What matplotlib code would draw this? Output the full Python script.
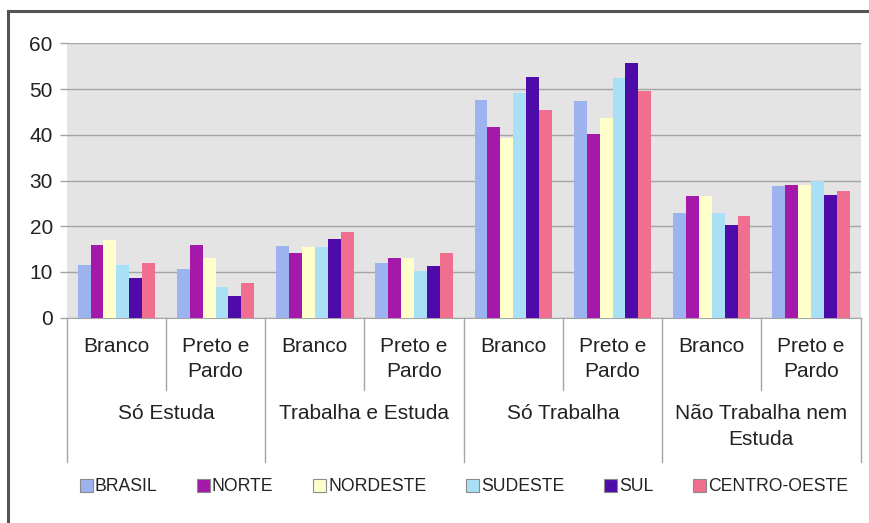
import numpy as np
import matplotlib.pyplot as plt
from matplotlib.patches import Patch
from matplotlib.lines import Line2D
import matplotlib.transforms as mtransforms

plt.rcParams['font.family'] = ['Liberation Sans', 'DejaVu Sans']

# ---------------- data ----------------
groups = ['Só Estuda', 'Trabalha e Estuda', 'Só Trabalha', 'Não Trabalha nem\nEstuda']
subgroups = ['Branco', 'Preto e\nPardo']
regions = ['BRASIL', 'NORTE', 'NORDESTE', 'SUDESTE', 'SUL', 'CENTRO-OESTE']

brasil   = [11.5, 10.6, 15.7, 11.9, 47.6, 47.3, 22.8, 28.7]
norte    = [15.9, 15.9, 14.1, 13.0, 41.8, 40.2, 26.6, 29.0]
nordeste = [17.0, 13.0, 15.5, 13.0, 39.3, 43.6, 26.6, 29.0]
sudeste  = [11.5,  6.8, 15.5, 10.3, 49.1, 52.4, 22.8, 29.8]
sul      = [ 8.6,  4.7, 17.2, 11.3, 52.6, 55.7, 20.3, 26.8]
centro   = [11.9,  7.7, 18.8, 14.1, 45.4, 49.5, 22.3, 27.6]
series = [brasil, norte, nordeste, sudeste, sul, centro]

colors = ['#9db3f0', '#a519aa', '#ffffcc', '#a9e0f5', '#4f0aaa', '#f06e8e']
text_col = '#222222'
line_col = '#a4a4a4'

# ---------------- figure ----------------
fig = plt.figure(figsize=(8.7, 5.23), dpi=100)
ax = fig.add_axes([0.0767, 0.3925, 0.9125, 0.5247])
ax.set_facecolor('#e4e4e4')

n_cat = len(groups) * len(subgroups)
x = np.arange(n_cat)
w = 0.13
for i, (vals, c) in enumerate(zip(series, colors)):
    ax.bar(x + (i - 2.5) * w, vals, width=w, color=c, linewidth=0, zorder=3)

ax.set_xlim(-0.5, n_cat - 0.5)
ax.set_ylim(0, 60)
ax.set_yticks(np.arange(0, 61, 10))
ax.yaxis.grid(True, color=line_col, linewidth=1.0, zorder=1)
ax.set_axisbelow(True)
ax.tick_params(axis='y', labelsize=15, colors=line_col, labelcolor=text_col,
               length=5, width=1, pad=5)
ax.set_xticks([])
for s in ['top', 'right', 'left']:
    ax.spines[s].set_visible(False)
ax.spines['bottom'].set_color(line_col)

# ---------------- multi-level category axis ----------------
trans = mtransforms.blended_transform_factory(ax.transData, ax.transAxes)
ax_h_px = 274.4
def yfrac(px_below):
    return -px_below / ax_h_px

short_len = yfrac(72)
long_len = yfrac(144)
for k in range(n_cat + 1):
    bottom = long_len if k % 2 == 0 else short_len
    ax.add_line(Line2D([k - 0.5, k - 0.5], [0, bottom], transform=trans,
                       color=line_col, linewidth=1.0, clip_on=False))

line_step = 25.5
for k in range(n_cat):
    for j, part in enumerate(subgroups[k % 2].split('\n')):
        ax.text(k, yfrac(28.5 + j * line_step), part, transform=trans,
                ha='center', va='center', fontsize=15, color=text_col)
for g, name in enumerate(groups):
    for j, part in enumerate(name.split('\n')):
        ax.text(2 * g + 0.5, yfrac(96 + j * line_step), part, transform=trans,
                ha='center', va='center', fontsize=15, color=text_col)

# ---------------- legend ----------------
handles = [Patch(facecolor=c, edgecolor='#8a8a8a', linewidth=0.8) for c in colors]
fig.legend(handles, regions, loc='center', bbox_to_anchor=(0.533, 0.069),
           ncol=6, frameon=False, fontsize=12.7, handlelength=0.75,
           handleheight=0.75, handletextpad=0.1, columnspacing=2.25,
           labelcolor=text_col)

# ---------------- outer frame (left and top edges) ----------------
fig.add_artist(Line2D([8.5 / 870, 8.5 / 870], [0, 1 - 10.5 / 523],
                      transform=fig.transFigure, color='#555555', linewidth=2.2))
fig.add_artist(Line2D([8.5 / 870, 1], [1 - 10.5 / 523, 1 - 10.5 / 523],
                      transform=fig.transFigure, color='#555555', linewidth=2.2))

fig.savefig('out.png', dpi=100, facecolor='white')
